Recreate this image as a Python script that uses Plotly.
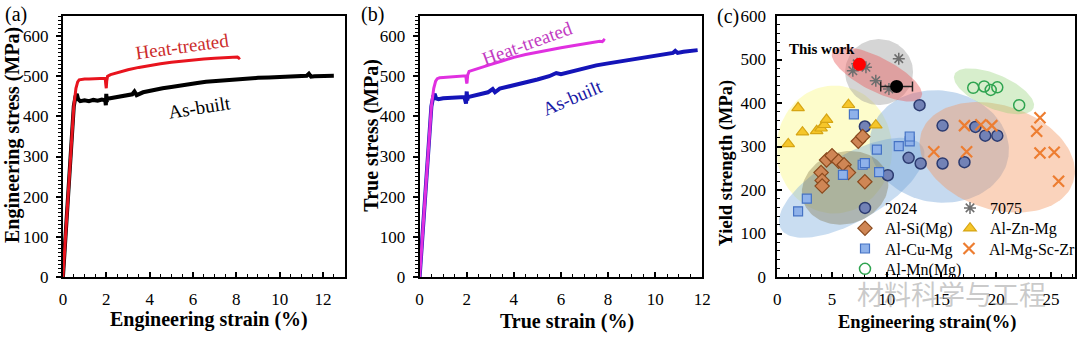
import numpy as np
import plotly.graph_objects as go

SERIF = "Liberation Serif, Times New Roman, serif"
W, H = 1080, 339

# ---------------- Panel (a): engineering stress-strain ----------------
eng_strain_heat = [0.00, 0.10, 0.20, 0.30, 0.40, 0.50, 0.60, 0.68, 0.75, 0.85, 1.00, 1.20, 1.40,
                   1.60, 1.80, 1.95, 1.98, 2.00, 2.02, 2.06, 2.20, 2.50, 3.00, 3.50, 4.00, 4.50,
                   5.00, 5.50, 6.00, 6.50, 7.00, 7.50, 7.90, 8.05, 8.12, 8.17]
eng_stress_heat = [0, 85, 175, 265, 350, 425, 470, 486, 491, 492, 493, 493, 494,
                   494, 495, 495, 478, 470, 488, 500, 504, 509, 516, 522, 527, 531,
                   535, 538, 541, 543, 545, 546, 546, 548, 545, 547]

eng_strain_asb = [0.00, 0.10, 0.20, 0.30, 0.40, 0.50, 0.58, 0.64, 0.70, 0.80, 1.00, 1.20, 1.40,
                  1.60, 1.80, 1.95, 1.98, 2.00, 2.02, 2.05, 2.30, 2.60, 2.90, 3.20, 3.30, 3.40,
                  3.70, 4.00, 4.30, 4.60, 5.00, 5.40, 5.80, 6.20, 6.60, 7.00, 7.50, 8.00, 8.50,
                  9.00, 9.50, 10.00, 10.50, 11.00, 11.25, 11.35, 11.45, 11.60, 12.00, 12.50]
eng_stress_asb = [0, 85, 175, 265, 350, 425, 450, 456, 443, 438, 440, 438, 441,
                  439, 442, 440, 428, 456, 436, 444, 446, 448, 452, 455, 462, 453,
                  460, 464, 466, 470, 473, 477, 480, 483, 486, 488, 490, 492, 494,
                  496, 497, 498, 499, 500, 501, 506, 499, 500, 501, 501]

# ---------------- Panel (b): true stress-strain ----------------
true_strain_heat = [0.00, 0.10, 0.20, 0.30, 0.40, 0.50, 0.60, 0.68, 0.75, 0.85, 1.00, 1.30, 1.60,
                    1.90, 1.96, 1.99, 2.01, 2.04, 2.10, 2.30, 2.60, 3.00, 3.50, 4.00, 4.50, 5.00,
                    5.50, 6.00, 6.50, 7.00, 7.40, 7.65, 7.75, 7.82, 7.86]
true_stress_heat = [0, 85, 175, 265, 350, 425, 470, 488, 494, 496, 497, 498, 499,
                    500, 501, 486, 482, 503, 512, 516, 521, 529, 538, 547, 554, 560,
                    566, 571, 576, 581, 584, 587, 586, 590, 588]

true_strain_asb = [0.00, 0.10, 0.20, 0.30, 0.40, 0.50, 0.58, 0.64, 0.70, 0.80, 1.00, 1.30, 1.60,
                   1.90, 1.97, 2.00, 2.02, 2.05, 2.30, 2.60, 2.90, 3.10, 3.20, 3.40, 3.70, 4.00,
                   4.50, 5.00, 5.50, 5.80, 6.00, 6.50, 7.00, 7.50, 8.00, 8.50, 9.00, 9.50, 10.00,
                   10.50, 10.75, 10.85, 10.95, 11.20, 11.50, 11.80]
true_stress_asb = [0, 85, 175, 265, 350, 425, 450, 456, 445, 443, 445, 446, 447,
                   448, 432, 462, 440, 448, 452, 456, 460, 468, 460, 469, 473, 477,
                   484, 492, 500, 508, 505, 513, 520, 527, 532, 537, 542, 547, 552,
                   556, 558, 563, 558, 561, 563, 565]

# ---------------- Panel (c): yield strength vs. elongation ----------------
al2024_strain = [8.0, 10.1, 12.0, 13.0, 13.1, 15.1, 15.1, 17.1, 18.1, 19.0, 20.1]
al2024_ys = [346, 234, 274, 395, 261, 348, 261, 264, 345, 325, 325]

alsi_strain = [4.0, 4.1, 4.1, 4.5, 5.0, 5.6, 6.1, 6.5, 7.4, 7.8, 8.0]
alsi_ys = [240, 222, 209, 269, 279, 266, 258, 240, 312, 323, 219]

alcumg_strain = [1.9, 2.7, 6.0, 7.0, 7.8, 8.0, 9.1, 9.3, 11.1, 12.1, 12.1]
alcumg_ys = [151, 180, 235, 374, 258, 262, 293, 241, 301, 312, 323]

almn_strain = [17.9, 18.9, 19.5, 20.1, 22.1]
almn_ys = [435, 438, 430, 436, 395]

al7075_strain = [6.9, 7.3, 8.1, 9.0, 10.2, 11.1]
al7075_ys = [474, 490, 482, 451, 432, 502]

alznmg_strain = [1.0, 1.9, 2.3, 3.6, 4.0, 4.3, 4.5, 6.5, 9.0]
alznmg_ys = [306, 389, 333, 336, 342, 350, 362, 396, 349]

almgsczr_strain = [14.3, 17.1, 17.3, 18.6, 19.6, 23.7, 24.0, 24.0, 25.3, 25.7]
almgsczr_ys = [288, 348, 288, 350, 348, 335, 366, 285, 287, 220]

this_work_strain = [7.5, 10.9]
this_work_ys = [489, 438]
this_work_strain_err = [0.0, 1.45]

# ---------------- layout geometry (pixels) ----------------
A_X = (63, 345)
B_X = (420, 703)
C_X = (778, 1076)
PLOT_Y = (16, 277)

A_XRANGE, A_YRANGE = [0, 13], [0, 650]
B_XRANGE, B_YRANGE = [0, 12], [0, 650]
C_XRANGE, C_YRANGE = [0, 27.2], [0, 600]


def px(x):
    return x / W


def py(y):
    return 1 - y / H


def dom_x(rng):
    return [px(rng[0]), px(rng[1])]


DOM_Y = [py(PLOT_Y[1]), py(PLOT_Y[0])]

# group shading in panel (c): center (data), semi-axes (px), tilt (deg), fill
C_PPU_X = (C_X[1] - C_X[0]) / (C_XRANGE[1] - C_XRANGE[0])
C_PPU_Y = (PLOT_Y[1] - PLOT_Y[0]) / (C_YRANGE[1] - C_YRANGE[0])

regions = [
    dict(c=(5.2, 293), a=58, b=64, ang=0, fill="rgba(250,248,130,0.42)"),
    dict(c=(6.8, 205), a=82, b=33, ang=30, fill="rgba(120,170,220,0.40)"),
    dict(c=(14.8, 300), a=70, b=56, ang=-8, fill="rgba(110,160,215,0.40)"),
    dict(c=(6.2, 205), a=44, b=36, ang=18, fill="rgba(120,105,60,0.35)"),
    dict(c=(20.1, 275), a=80, b=52, ang=-18, fill="rgba(242,150,95,0.42)"),
    dict(c=(19.8, 427), a=43, b=17, ang=-23, fill="rgba(150,210,120,0.38)"),
    dict(c=(9.3, 471), a=34, b=33, ang=0, fill="rgba(150,150,150,0.40)"),
    dict(c=(9.1, 466), a=50, b=17, ang=-27, fill="rgba(232,95,95,0.45)"),
]


def ellipse(cx, cy, a, b, ang):
    t = np.linspace(0, 2 * np.pi, 120)
    th = np.radians(ang)
    dx = a * np.cos(t) * np.cos(th) - b * np.sin(t) * np.sin(th)
    dy = a * np.cos(t) * np.sin(th) + b * np.sin(t) * np.cos(th)
    return cx + dx / C_PPU_X, cy + dy / C_PPU_Y


fig = go.Figure()

# panel (a)
fig.add_trace(go.Scatter(x=eng_strain_asb, y=eng_stress_asb, mode="lines",
                         line=dict(color="black", width=4), xaxis="x", yaxis="y", showlegend=False))
fig.add_trace(go.Scatter(x=eng_strain_heat, y=eng_stress_heat, mode="lines",
                         line=dict(color="#e8141e", width=3), xaxis="x", yaxis="y", showlegend=False))

# panel (b)
fig.add_trace(go.Scatter(x=true_strain_asb, y=true_stress_asb, mode="lines",
                         line=dict(color="#1414b8", width=4), xaxis="x2", yaxis="y2", showlegend=False))
fig.add_trace(go.Scatter(x=true_strain_heat, y=true_stress_heat, mode="lines",
                         line=dict(color="#e030e0", width=3), xaxis="x2", yaxis="y2", showlegend=False))

# panel (c) shaded regions
for r in regions:
    ex, ey = ellipse(r["c"][0], r["c"][1], r["a"], r["b"], r["ang"])
    fig.add_trace(go.Scatter(x=ex, y=ey, mode="lines", fill="toself", fillcolor=r["fill"],
                             line=dict(width=0), hoverinfo="skip", xaxis="x3", yaxis="y3",
                             showlegend=False))

# (name, x, y, marker, legend column, legend row)
groups = [
    ("2024", al2024_strain, al2024_ys, dict(symbol="circle", size=11, color="#7282b6",
                                            line=dict(color="#2c3b70", width=1.5)), 0, 0),
    ("Al-Si(Mg)", alsi_strain, alsi_ys, dict(symbol="diamond", size=11, color="#cf8655",
                                             line=dict(color="#8a4a1e", width=1.2)), 0, 1),
    ("Al-Cu-Mg", alcumg_strain, alcumg_ys, dict(symbol="square", size=9, color="#8fb2ea",
                                                line=dict(color="#4572c4", width=1.2)), 0, 2),
    ("Al-Mn(Mg)", almn_strain, almn_ys, dict(symbol="circle-open", size=11, color="#2fa450",
                                             line=dict(color="#2fa450", width=1.5)), 0, 3),
    ("7075", al7075_strain, al7075_ys, dict(symbol="asterisk-open", size=10, color="#6e6e6e",
                                            line=dict(color="#6e6e6e", width=1.5)), 1, 0),
    ("Al-Zn-Mg", alznmg_strain, alznmg_ys, dict(symbol="triangle-up", size=11, color="#f6c62a",
                                                line=dict(color="#d6a514", width=1.2)), 1, 1),
    ("Al-Mg-Sc-Zr", almgsczr_strain, almgsczr_ys, dict(symbol="x-thin-open", size=11, color="#ed7d31",
                                                       line=dict(color="#ed7d31", width=2.2)), 1, 2),
]

LEG_COL_X = [845, 950]
LEG_ROW_TOP = 191
LEG_ROW_STEP = 20.3

legend_layouts = {}
for i, (name, xs, ys, mk, col, row) in enumerate(groups):
    key = "legend" if i == 0 else f"legend{i + 1}"
    fig.add_trace(go.Scatter(x=xs, y=ys, mode="markers", name=name, marker=mk,
                             xaxis="x3", yaxis="y3", legend=key))
    legend_layouts[key] = dict(
        x=px(LEG_COL_X[col]), y=py(LEG_ROW_TOP + row * LEG_ROW_STEP), xanchor="left", yanchor="top",
        bgcolor="rgba(0,0,0,0)", borderwidth=0, font=dict(family=SERIF, size=16, color="black"),
        tracegroupgap=0, itemwidth=30)

fig.add_trace(go.Scatter(
    x=this_work_strain, y=this_work_ys, mode="markers",
    marker=dict(size=13, color=["#ff0000", "#000000"], line=dict(width=0)),
    error_x=dict(type="data", array=this_work_strain_err, color="#222222", thickness=1.5, width=5),
    xaxis="x3", yaxis="y3", showlegend=False))


def axis(rng, dom, anchor, ticks, dtick, minor_dtick, **kw):
    d = dict(range=rng, domain=dom, anchor=anchor, showline=True, linecolor="black", linewidth=2,
             mirror=True, showgrid=False, zeroline=False, ticks=ticks, ticklen=5, tickwidth=1.5,
             tickcolor="black", dtick=dtick, tick0=0,
             tickfont=dict(family=SERIF, size=17, color="black"),
             minor=dict(dtick=minor_dtick, ticks=ticks, ticklen=3, tickwidth=1, tickcolor="black"),
             automargin=False, fixedrange=True)
    d.update(kw)
    return d


fig.update_layout(
    width=W, height=H, template="none",
    paper_bgcolor="white", plot_bgcolor="white",
    margin=dict(l=0, r=0, t=0, b=0),
    xaxis=axis(A_XRANGE, dom_x(A_X), "y", "inside", 2, 0.5, ticklabelstandoff=6),
    yaxis=axis(A_YRANGE, DOM_Y, "x", "outside", 100, 10, ticklabelstandoff=4),
    xaxis2=axis(B_XRANGE, dom_x(B_X), "y2", "inside", 2, 0.5, ticklabelstandoff=6),
    yaxis2=axis(B_YRANGE, DOM_Y, "x2", "outside", 100, 10, ticklabelstandoff=4),
    xaxis3=axis(C_XRANGE, dom_x(C_X), "y3", "inside", 5, 1, ticklabelstandoff=6),
    yaxis3=axis(C_YRANGE, DOM_Y, "x3", "inside", 100, 20, ticklabelstandoff=6),
    **legend_layouts,
)

ann = []


def text(x, y, s, size, bold=False, angle=0, color="black", family=SERIF, xanchor="center"):
    ann.append(dict(x=px(x), y=py(y), xref="paper", yref="paper", text=f"<b>{s}</b>" if bold else s,
                    showarrow=False, textangle=angle, xanchor=xanchor, yanchor="middle",
                    font=dict(family=family, size=size, color=color)))


# panel letters
text(16, 14, "(a)", 20)
text(373, 14, "(b)", 20)
text(729, 16, "(c)", 20)

# axis titles
text(209, 319, "Engineering strain (%)", 20, bold=True)
text(13, 135, "Engineering stress (MPa)", 20, bold=True, angle=-90)
text(568, 321, "True strain (%)", 20, bold=True)
text(372, 135, "True stress (MPa)", 20, bold=True, angle=-90)
text(928, 322, "Engineering strain(%)", 18.5, bold=True)
text(727, 163, "Yield strength (MPa)", 18.5, bold=True, angle=-90)

# curve labels (data coordinates)
fig.add_annotation(x=5.5, y=575, xref="x", yref="y", text="Heat-treated", showarrow=False, textangle=-8,
                   font=dict(family=SERIF, size=19, color="#cc2b2b"))
fig.add_annotation(x=6.3, y=423, xref="x", yref="y", text="As-built", showarrow=False, textangle=-9,
                   font=dict(family=SERIF, size=19, color="black"))
fig.add_annotation(x=4.55, y=582, xref="x2", yref="y2", text="Heat-treated", showarrow=False, textangle=-20,
                   font=dict(family=SERIF, size=19, color="#c23cc2"))
fig.add_annotation(x=6.5, y=447, xref="x2", yref="y2", text="As-built", showarrow=False, textangle=-23,
                   font=dict(family=SERIF, size=19, color="#1a1aa6"))
fig.add_annotation(x=0.9, y=524, xref="x3", yref="y3", text="<b>This work</b>", showarrow=False,
                   xanchor="left", font=dict(family=SERIF, size=15, color="black"))

# account watermark
text(952, 293, "材料科学与工程", 27, color="rgba(150,150,150,0.5)", family="Noto Sans CJK SC")

for a in ann:
    fig.add_annotation(**a)

fig.write_html("out.html")
